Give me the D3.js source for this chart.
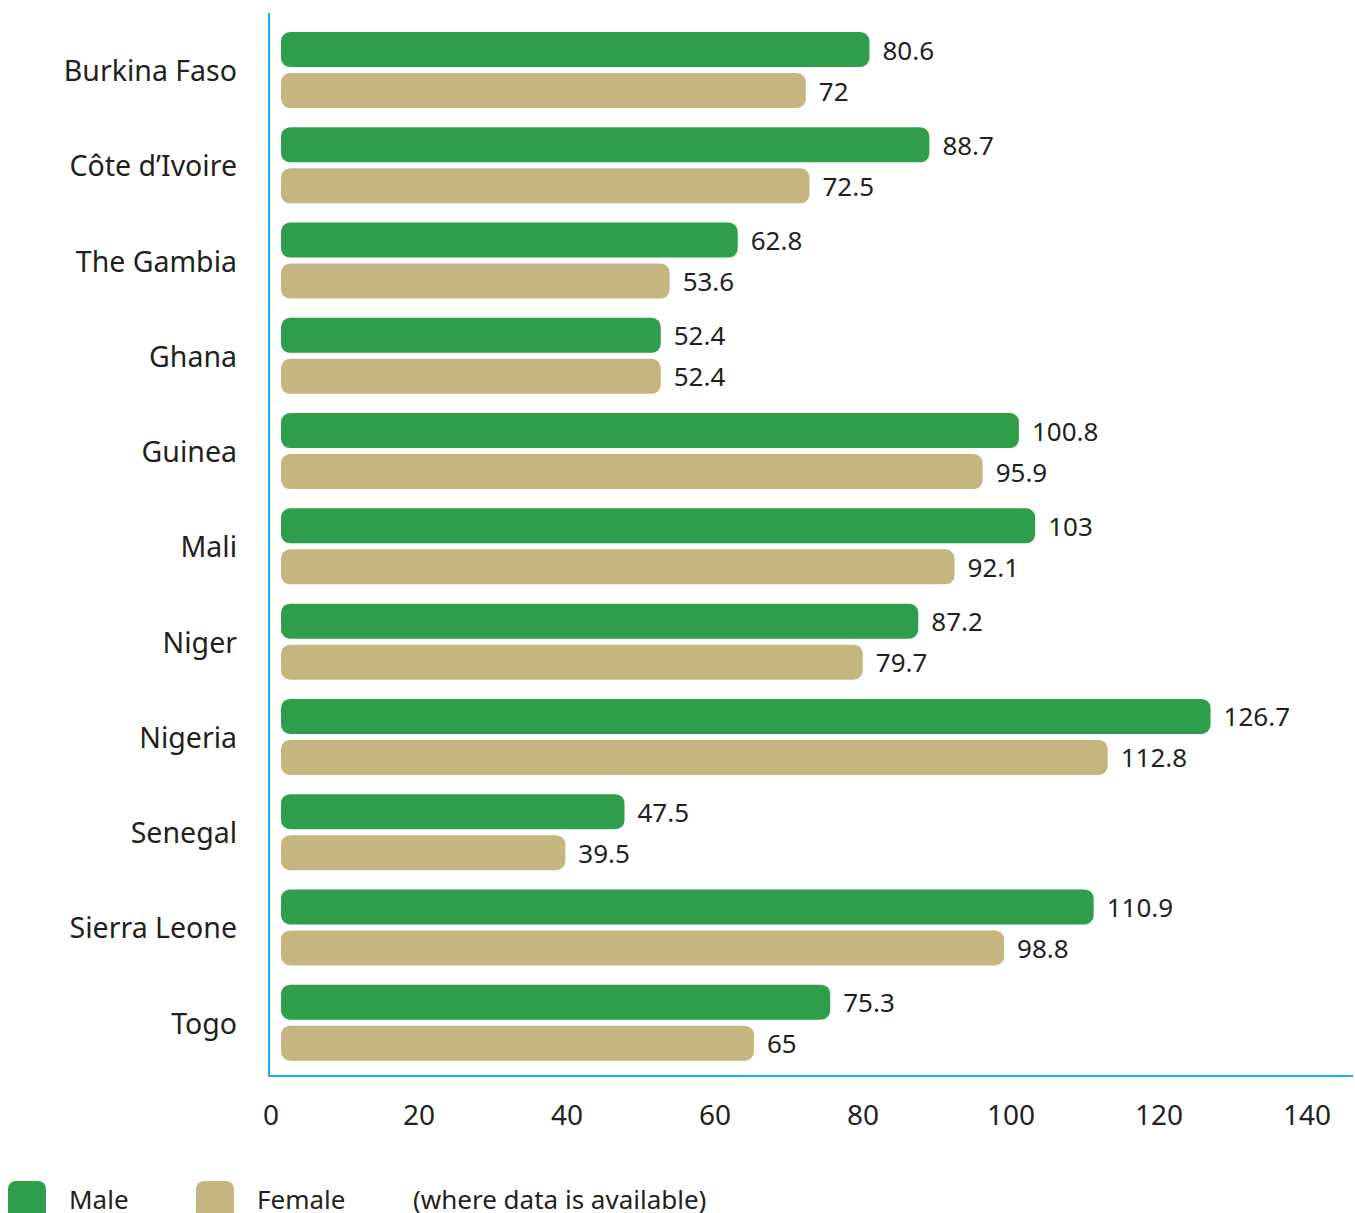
<!DOCTYPE html>
<meta charset="utf-8">
<script src="https://d3js.org/d3.v7.min.js"></script>
<style>
  body { margin: 0; background: #fff; }
  text { font-family: "Noto Sans", "Open Sans", sans-serif; fill: #231f20; }
</style>
<div id="chart"></div>
<script>
// data
var countries = ["Burkina Faso", "Côte d’Ivoire", "The Gambia", "Ghana", "Guinea", "Mali",
                 "Niger", "Nigeria", "Senegal", "Sierra Leone", "Togo"];
var male   = [80.6, 88.7, 62.8, 52.4, 100.8, 103, 87.2, 126.7, 47.5, 110.9, 75.3];
var female = [72, 72.5, 53.6, 52.4, 95.9, 92.1, 79.7, 112.8, 39.5, 98.8, 65];
var ticks  = [0, 20, 40, 60, 80, 100, 120, 140];

var width = 1355, height = 1213;
var green = "#2e9e4a", tan = "#c5b580", axisBlue = "#1ab0ea";

var svg = d3.select("#chart").append("svg")
    .attr("width", width)
    .attr("height", height);

var x = d3.scaleLinear().domain([0, 140]).range([271, 1307]);
var y = d3.scaleBand().domain(countries).range([22, 1070]).paddingInner(0).paddingOuter(0);

var barH = 35, gap = 5, barStart = 281;

// axes lines
svg.append("line")
    .attr("x1", 269).attr("x2", 269).attr("y1", 13).attr("y2", 1077)
    .attr("stroke", axisBlue).attr("stroke-width", 2);
svg.append("line")
    .attr("x1", 268).attr("x2", 1353).attr("y1", 1076).attr("y2", 1076)
    .attr("stroke", axisBlue).attr("stroke-width", 2);

// tick labels
svg.selectAll(".tick-label")
    .data(ticks)
  .enter().append("text")
    .attr("class", "tick-label")
    .attr("x", function(d) { return x(d); })
    .attr("y", 1125)
    .attr("text-anchor", "middle")
    .style("font-size", "28px")
    .text(function(d) { return d; });

var rows = svg.selectAll(".row")
    .data(countries)
  .enter().append("g")
    .attr("class", "row")
    .attr("transform", function(d) { return "translate(0," + y(d) + ")"; });

rows.append("text")
    .attr("x", 237)
    .attr("y", 59)
    .attr("text-anchor", "end")
    .style("font-size", "28.5px")
    .text(function(d) { return d; });

function drawBars(vals, color, offset) {
  rows.append("rect")
      .attr("x", barStart)
      .attr("y", offset)
      .attr("width", function(d, i) { return x(vals[i]) + 2 - barStart; })
      .attr("height", barH)
      .attr("rx", 9)
      .attr("fill", color);
  rows.append("text")
      .attr("x", function(d, i) { return x(vals[i]) + 15; })
      .attr("y", offset + barH / 2 + 10)
      .style("font-size", "26px")
      .text(function(d, i) { return vals[i]; });
}
drawBars(male, green, 10);
drawBars(female, tan, 10 + barH + gap + 1);

// legend
var legend = [
  { label: "Male", color: green, x: 8 },
  { label: "Female", color: tan, x: 196 }
];
var lg = svg.selectAll(".legend")
    .data(legend)
  .enter().append("g")
    .attr("class", "legend");
lg.append("rect")
    .attr("x", function(d) { return d.x; })
    .attr("y", 1181)
    .attr("width", 38).attr("height", 44)
    .attr("rx", 8)
    .attr("fill", function(d) { return d.color; });
lg.append("text")
    .attr("x", function(d) { return d.x + 61; })
    .attr("y", 1209)
    .style("font-size", "26px")
    .text(function(d) { return d.label; });
svg.append("text")
    .attr("x", 413)
    .attr("y", 1209)
    .style("font-size", "26px")
    .text("(where data is available)");
</script>
